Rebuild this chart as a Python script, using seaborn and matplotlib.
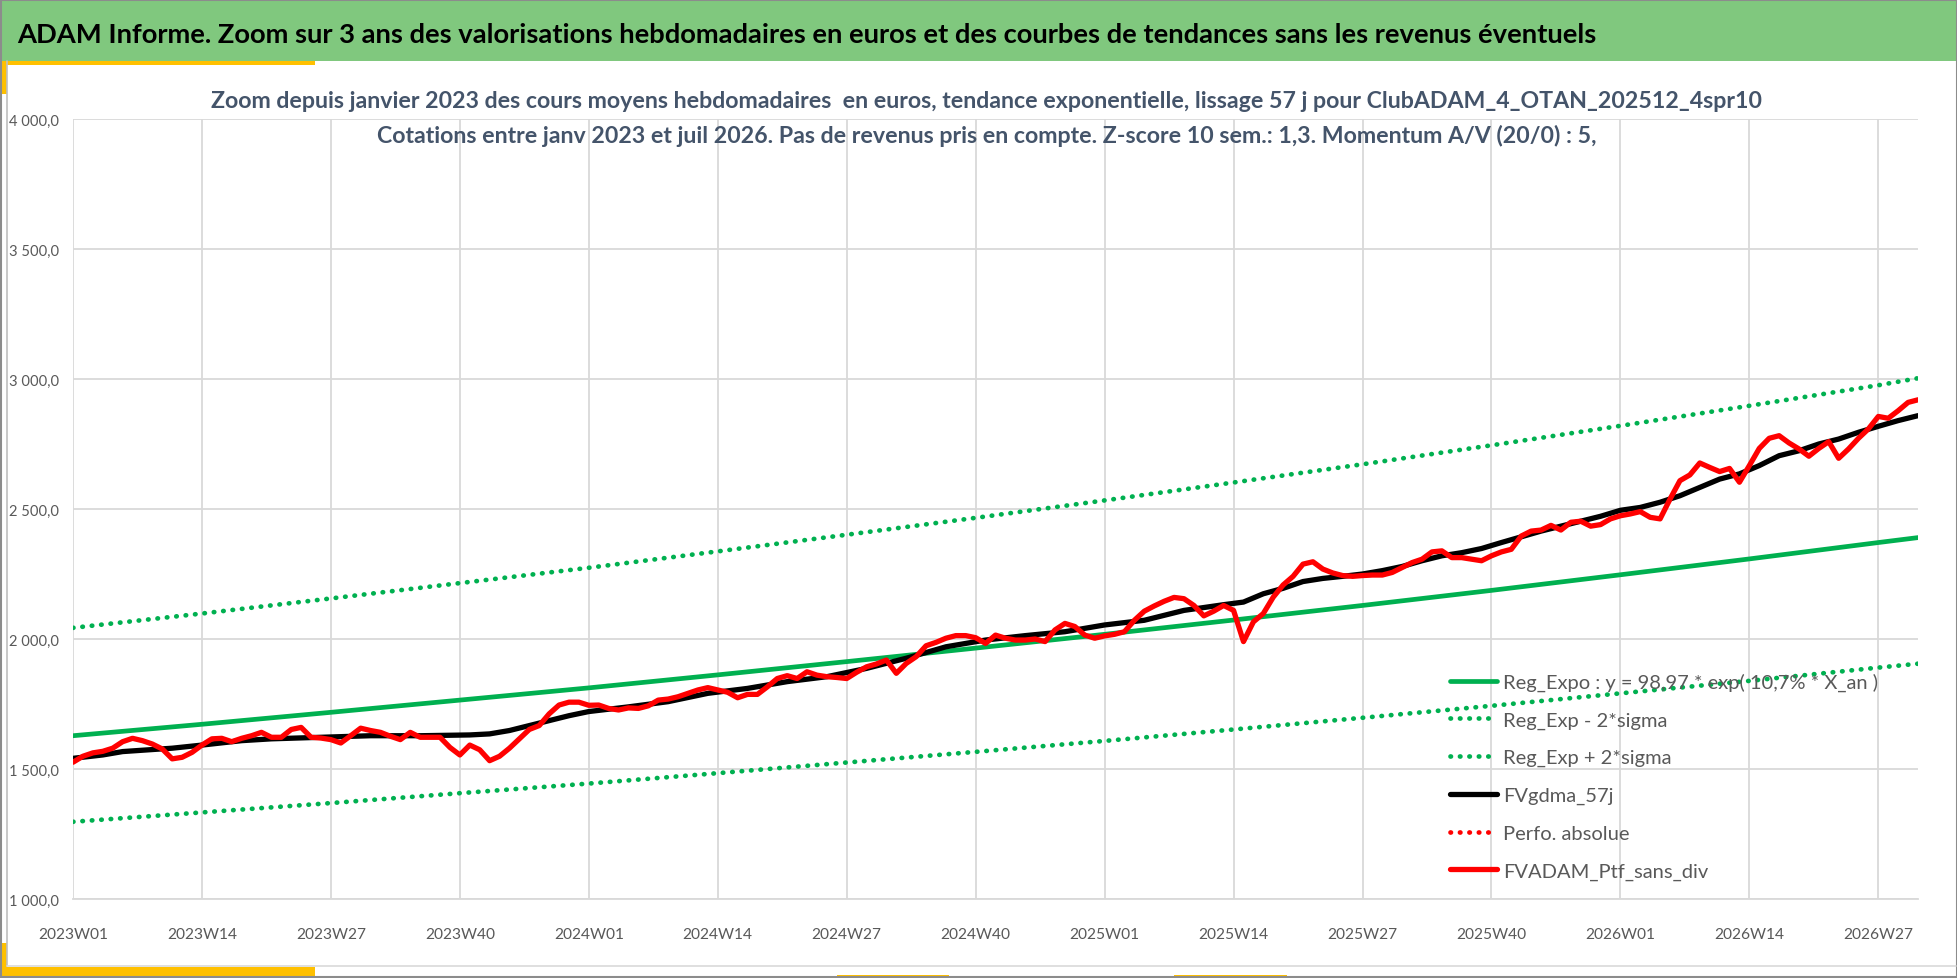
import matplotlib
matplotlib.use("Agg")
import matplotlib.pyplot as plt
import numpy as np
import pandas as pd
import seaborn as sns
from matplotlib.patches import Rectangle
from matplotlib.lines import Line2D
from matplotlib.ticker import FuncFormatter

# ---------------- data ----------------
years = [2023, 2024, 2025, 2026]
weeks_per_year = [52, 52, 52, 31]
week_labels = [f"{y}W{w:02d}" for y, n in zip(years, weeks_per_year) for w in range(1, n + 1)]

tick_labels = ["2023W01", "2023W14", "2023W27", "2023W40", "2024W01", "2024W14", "2024W27",
               "2024W40", "2025W01", "2025W14", "2025W27", "2025W40", "2026W01", "2026W14",
               "2026W27"]

y_ticks = [1000, 1500, 2000, 2500, 3000, 3500, 4000]

# FVADAM_Ptf_sans_div (weekly)
red_vals = [
    1526, 1549, 1562, 1568, 1580, 1605, 1618, 1609, 1596, 1577, 1539, 1545, 1564, 1592, 1616, 1618,
    1605, 1618, 1628, 1641, 1622, 1622, 1652, 1660, 1622, 1619, 1613, 1600, 1628, 1657, 1648, 1641,
    1626, 1613, 1641, 1622, 1622, 1622, 1583, 1554, 1592, 1574, 1532, 1549, 1580, 1616, 1652, 1667,
    1712, 1746, 1757, 1757,
    1745, 1746, 1733, 1727, 1735, 1733, 1743, 1765, 1769, 1778, 1791, 1804, 1813, 1804, 1795, 1774,
    1787, 1787, 1816, 1848, 1859, 1848, 1874, 1861, 1855, 1852, 1848, 1872, 1893, 1904, 1919, 1868,
    1906, 1932, 1974, 1987, 2003, 2013, 2013, 2005, 1983, 2015, 2003, 1996, 1996, 2000, 1990, 2035,
    2060, 2048, 2015, 2003,
    2012, 2018, 2028, 2072, 2107, 2127, 2145, 2160, 2155, 2129, 2089, 2107, 2129, 2110, 1990, 2066,
    2098, 2161, 2208, 2241, 2288, 2297, 2269, 2254, 2244, 2241, 2244, 2246, 2246, 2256, 2275, 2294,
    2307, 2335, 2339, 2313, 2313, 2307, 2301, 2320, 2335, 2345, 2396, 2415, 2419, 2437, 2419, 2449,
    2453, 2434, 2440, 2462,
    2474, 2481, 2490, 2468, 2462, 2538, 2609, 2631, 2677, 2660, 2644, 2656, 2603, 2667, 2733, 2772,
    2782, 2754, 2731, 2703, 2733, 2759, 2695, 2731, 2772, 2808, 2856, 2849, 2878, 2910, 2920,
]

# FVgdma_57j (read at these week numbers)
black_weeks = [0, 3, 5, 10, 13, 17, 20, 25, 30, 35, 40, 42, 44, 46, 48, 50, 52, 56, 60, 64, 68,
               72, 76, 80, 84, 88, 92, 96, 100, 104, 108, 112, 116, 118, 120, 122, 124, 126, 128,
               130, 132, 134, 136, 138, 140, 142, 144, 146, 148, 150, 152, 154, 156, 158, 160,
               162, 164, 166, 168, 170, 172, 174, 176, 178, 180, 182, 184, 186]
black_vals = [1541, 1554, 1567, 1580, 1592, 1609, 1616, 1622, 1628, 1628, 1631, 1635, 1648, 1667,
              1686, 1705, 1721, 1739, 1759, 1791, 1810, 1836, 1855, 1887, 1926, 1970, 1996, 2013,
              2028, 2054, 2072, 2110, 2132, 2142, 2174, 2195, 2221, 2233, 2241, 2250, 2263, 2279,
              2301, 2320, 2332, 2348, 2371, 2393, 2415, 2434, 2453, 2472, 2495, 2506, 2526, 2551,
              2583, 2615, 2635, 2667, 2705, 2724, 2750, 2769, 2795, 2818, 2840, 2859]

# Trend curves (read at these week numbers)
trend_weeks = [0, 13, 26, 39, 52, 65, 78, 91, 104, 117, 130, 143, 156, 169, 182, 186]
reg_expo = [1628, 1672, 1718, 1765, 1812, 1862, 1913, 1965, 2018, 2073, 2129, 2187, 2247, 2308,
            2371, 2390]
reg_minus = [1297, 1333, 1369, 1407, 1444, 1484, 1525, 1566, 1608, 1652, 1697, 1743, 1791, 1839,
             1890, 1905]
reg_plus = [2043, 2098, 2156, 2215, 2274, 2337, 2401, 2466, 2533, 2602, 2672, 2745, 2820, 2897,
            2976, 3003]

legend_labels = ["Reg_Expo : y = 98,97 * exp( 10,7% * X_an )", "Reg_Exp - 2*sigma",
                 "Reg_Exp + 2*sigma", "FVgdma_57j", "Perfo. absolue", "FVADAM_Ptf_sans_div"]

banner_title = ("ADAM Informe. Zoom sur 3 ans des valorisations hebdomadaires en euros et des "
                "courbes de tendances sans les revenus éventuels")
sub1 = ("Zoom depuis janvier 2023 des cours moyens hebdomadaires  en euros, tendance exponentielle, "
        "lissage 57 j pour ClubADAM_4_OTAN_202512_4spr10")
sub2 = ("Cotations entre janv 2023 et juil 2026. Pas de revenus pris en compte. Z-score 10 sem.: 1,3. "
        "Momentum A/V (20/0) : 5,")

# ---------------- style ----------------
sns.set_style("white")
FAM = ["Lato", "DejaVu Sans"]
plt.rcParams["font.family"] = FAM

W, H = 1958, 979
fig = plt.figure(figsize=(W / 100, H / 100), dpi=100)
fig.patch.set_facecolor("white")
renderer = fig.canvas.get_renderer()


def fx(x):
    return x / W


def fy(y):
    return 1 - y / H


def fit_size(text, target_px, weight="normal", base=20):
    t = fig.text(0, 0, text, fontsize=base, fontweight=weight, family=FAM)
    w = t.get_window_extent(renderer).width
    t.remove()
    return base * target_px / w


# ---------------- decorations ----------------
GREEN_BANNER = "#80C87E"
YELLOW = "#FFC000"
fig.add_artist(Rectangle((0, fy(62)), 1, 62 / H, transform=fig.transFigure,
                         facecolor=GREEN_BANNER, edgecolor="none", zorder=0))
fig.add_artist(Rectangle((0, fy(66)), fx(315), 4 / H, transform=fig.transFigure,
                         facecolor=YELLOW, edgecolor="none", zorder=0))
fig.add_artist(Rectangle((0, fy(95)), fx(7), 33 / H, transform=fig.transFigure,
                         facecolor=YELLOW, edgecolor="none", zorder=0))
fig.add_artist(Rectangle((0, 0), fx(315), 11 / H, transform=fig.transFigure,
                         facecolor=YELLOW, edgecolor="none", zorder=0))
fig.add_artist(Rectangle((0, 0), fx(7), 35 / H, transform=fig.transFigure,
                         facecolor=YELLOW, edgecolor="none", zorder=0))
for x0, x1 in [(837, 949), (1174, 1287)]:
    fig.add_artist(Rectangle((fx(x0), 0), fx(x1 - x0), 3 / H, transform=fig.transFigure,
                             facecolor=YELLOW, edgecolor="none", zorder=0))
# inner frame lines
fig.add_artist(Line2D([fx(7), fx(7)], [fy(62), fy(967)], transform=fig.transFigure,
                      color="#BFBFBF", lw=1.2))
fig.add_artist(Line2D([fx(7), fx(1956)], [fy(967), fy(967)], transform=fig.transFigure,
                      color="#D9D9D9", lw=1.2))
fig.add_artist(Rectangle((0.0005, 0.001), 0.999, 0.998, transform=fig.transFigure,
                         fill=False, edgecolor="#8C8C8C", lw=1.5))

# ---------------- titles ----------------
fs_banner = fit_size(banner_title, 1580, weight="bold")
fig.text(fx(17), fy(43), banner_title, fontsize=fs_banner, fontweight="bold",
         color="black", va="baseline", ha="left")
fs_sub = fit_size(sub1, 1549, weight="bold")
fig.text(fx(987), fy(108), sub1, fontsize=fs_sub, fontweight="bold", color="#44546A",
         va="baseline", ha="center", zorder=10)
fig.text(fx(987), fy(143), sub2, fontsize=fs_sub, fontweight="bold", color="#44546A",
         va="baseline", ha="center", zorder=10)

# ---------------- axes ----------------
ax = fig.add_axes([fx(73), fy(900), (1918 - 73) / W, (900 - 120) / H])
ax.set_facecolor("none")

df_red = pd.DataFrame({"week": np.arange(len(red_vals)), "value": red_vals})
df_black = pd.DataFrame({"week": black_weeks, "value": black_vals})
df_trend = pd.DataFrame({"week": trend_weeks, "reg": reg_expo, "minus": reg_minus, "plus": reg_plus})

DOT = (0, (0.1, 1.9))
GREEN = "#00B050"
LW_DOT = 3.4
sns.lineplot(data=df_trend, x="week", y="minus", ax=ax, color=GREEN, lw=LW_DOT, linestyle=DOT,
             dash_capstyle="round", sort=False)
sns.lineplot(data=df_trend, x="week", y="plus", ax=ax, color=GREEN, lw=LW_DOT, linestyle=DOT,
             dash_capstyle="round", sort=False)
sns.lineplot(data=df_trend, x="week", y="reg", ax=ax, color=GREEN, lw=3.4, sort=False)
sns.lineplot(data=df_black, x="week", y="value", ax=ax, color="black", lw=3.8, sort=False)
sns.lineplot(data=df_red, x="week", y="value", ax=ax, color="#FF0000", lw=3.8, sort=False)

ax.set_xlabel("")
ax.set_ylabel("")

last = len(week_labels) - 1
tick_pos = [week_labels.index(l) for l in tick_labels]
ax.set_xticks(tick_pos)
ax.set_xticklabels(tick_labels)
ax.set_xticks([p + 6.5 for p in tick_pos if p + 6.5 <= last], minor=True)
ax.set_yticks(y_ticks)
ax.set_xlim(0, last)
ax.set_ylim(y_ticks[0], y_ticks[-1])
ax.yaxis.set_major_formatter(FuncFormatter(
    lambda v, p: f"{v:,.1f}".replace(",", " ").replace(".", ",")))

GRID = "#D9D9D9"
ax.grid(True, which="major", color=GRID, lw=1.3)
ax.set_axisbelow(True)
for s in ["top", "right", "left"]:
    ax.spines[s].set_visible(False)
ax.spines["bottom"].set_color(GRID)
ax.spines["bottom"].set_linewidth(1.3)

fs_x = fit_size("2023W01", 70)
fs_y = fit_size("4 000,0", 50)
ax.tick_params(axis="x", which="major", length=0, labelsize=fs_x, labelcolor="#595959", pad=20)
ax.tick_params(axis="x", which="minor", length=4, direction="in", color=GRID, width=1.2)
ax.tick_params(axis="y", which="major", length=0, labelsize=fs_y, labelcolor="#595959", pad=10)

# ---------------- legend ----------------
fs_leg = fit_size(legend_labels[0], 377)
fs_leg_px = fs_leg * 100 / 72
handles = [
    Line2D([], [], color=GREEN, lw=3.4),
    Line2D([], [], color=GREEN, lw=LW_DOT, linestyle=DOT, dash_capstyle="round"),
    Line2D([], [], color=GREEN, lw=LW_DOT, linestyle=DOT, dash_capstyle="round"),
    Line2D([], [], color="black", lw=3.8),
    Line2D([], [], color="#FF0000", lw=LW_DOT, linestyle=DOT, dash_capstyle="round"),
    Line2D([], [], color="#FF0000", lw=3.8),
]
row_h = fs_leg_px * 1.2 - 7.3
leg = fig.legend(handles, legend_labels, loc="upper left",
                 bbox_to_anchor=(fx(1450), fy(682 - row_h / 2)), bbox_transform=fig.transFigure,
                 frameon=False, fontsize=fs_leg, labelcolor="#595959", borderpad=0,
                 borderaxespad=0, handlelength=47 / fs_leg_px, handletextpad=6 / fs_leg_px,
                 labelspacing=(37.3 - row_h) / fs_leg_px)
leg.set_zorder(1)

fig.savefig("out.png", dpi=100, facecolor="white")
